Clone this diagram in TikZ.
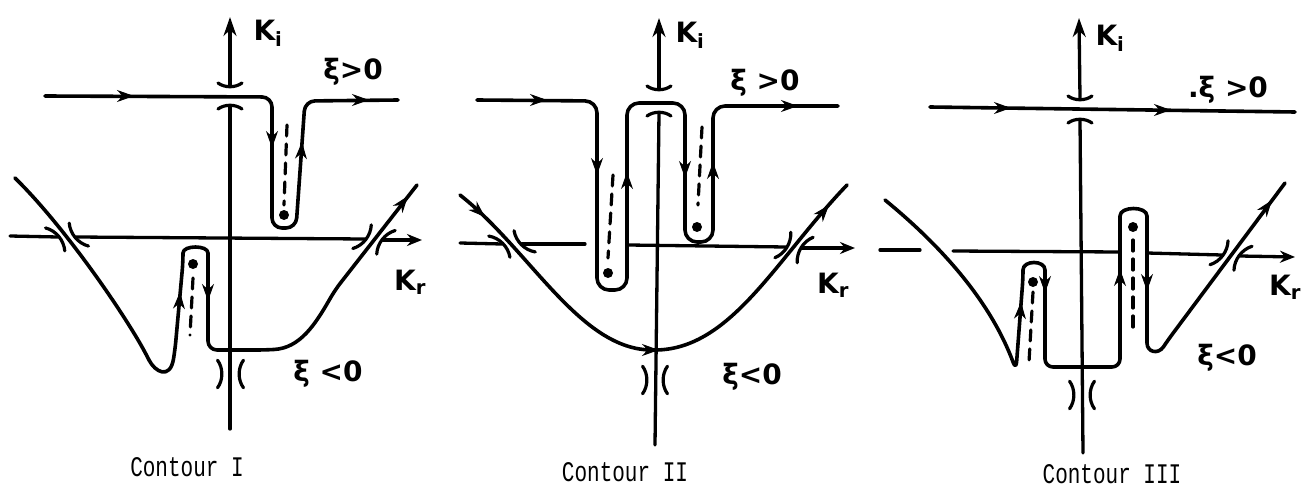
\documentclass[tikz,border=0pt]{standalone}
\usepackage{fontspec}
\usepackage{graphicx}
\setmainfont{DejaVu Sans}
\newfontfamily\typewfont{Liberation Mono}
\usetikzlibrary{arrows.meta, calc}

\begin{document}
\begin{tikzpicture}[x=1pt, y=-1pt, line width=3.6pt, line cap=round, line join=round,
  kaxis/.style={line width=3.3pt},
  axtip/.style={-{Stealth[length=19pt,width=13pt]}},
  krtip/.style={-{Stealth[length=15pt,width=12pt]}},
  tipmark/.style={-{Stealth[length=17pt,width=12pt]}, line width=1pt},
  branch/.style={dash pattern=on 11pt off 8pt, line width=3.2pt},
  lbl/.style={font=\bfseries\fontsize{28}{30}\selectfont, inner sep=0pt},
  ctitle/.style={font=\typewfont\fontsize{21}{24}\selectfont, inner sep=0pt},
  brk/.pic={\draw[line width=3.2pt] (-12,3) .. controls (-5,-2) and (5,-2) .. (12,3);}]
\useasboundingbox (0,0) rectangle (1302,495);

% Contour I
\draw[kaxis, axtip] (230,86) -- (230,17);
\draw[kaxis] (230,106) -- (230,429);
\path (230,86) pic[rotate=180] {brk};
\path (230,106) pic {brk};
\draw[kaxis] (10,236) -- (58,237);
\draw[kaxis] (76,237) -- (365,239);
\draw[kaxis, krtip] (383,240) -- (422,240);
\path (58,237) pic[rotate=-50, scale=1.25] {brk};
\path (76,237) pic[rotate=130, scale=1.25] {brk};
\path (365,239) pic[rotate=232, scale=1.25] {brk};
\path (383,240) pic[rotate=52, scale=1.25] {brk};
\path (221,374) pic[rotate=-90, scale=1.15] {brk};
\path (240,374) pic[rotate=90, scale=1.15] {brk};

\draw[rounded corners=10pt] (45,96) -- (272,97) -- (272,228) -- (296,228) -- (305,101) -- (398,100);
\draw[rounded corners=9pt] (15,178) .. controls (60,222) and (115,300) .. (145,352)
  .. controls (155,372) and (170,380) .. (175,350) -- (183,262)
  .. controls (183,245) and (208,245) .. (208,262) -- (208,350) -- (265,350)
  .. controls (300,348) and (315,325) .. (335,290) -- (417,185);
\draw[tipmark] (118,96) -- (134,96);
\draw[tipmark] (272,132) -- (272,148);
\draw[tipmark] (301,158) -- (302,142);
\draw[tipmark] (353,100) -- (369,100);
\draw[tipmark] (179,308) -- (180,292);
\draw[tipmark] (208,285) -- (208,301);
\draw[tipmark] (398,209) -- (408,196);
\draw[branch] (287,125) -- (284,205);
\fill (284,215) circle (5pt);
\draw[branch] (193,278) -- (190,335);
\fill (193,264) circle (5pt);

\node[lbl] (ki1) at (268,33) {K\textsubscript{i}};
\node[lbl] (xp1) at (353,72) {ξ>0};
\node[lbl] (xn1) at (328,374) {ξ <0};
\node[lbl] (kr1) at (410,282) {K\textsubscript{r}};
\node[ctitle] (c1) at (187,467) {\scalebox{1}[1.35]{Contour I}};

% Contour II
\draw[kaxis, axtip] (659,89) -- (659,18);
\draw[kaxis] (659,113) -- (655,445);
\path (659,89) pic[rotate=180] {brk};
\path (659,113) pic {brk};
\draw[kaxis] (460,243) -- (502,244);
\draw[kaxis] (522,244) -- (585,244);
\draw[kaxis] (628,245) -- (786,247);
\draw[kaxis, krtip] (802,248) -- (855,248);
\path (502,244) pic[rotate=-45, scale=1.25] {brk};
\path (522,244) pic[rotate=135, scale=1.25] {brk};
\path (786,247) pic[rotate=238, scale=1.25] {brk};
\path (802,248) pic[rotate=58, scale=1.25] {brk};
\path (646,380) pic[rotate=-90, scale=1.15] {brk};
\path (664,380) pic[rotate=90, scale=1.15] {brk};

\draw[rounded corners=12pt] (477,100) -- (597,101) -- (597,290) -- (627,290) -- (627,103)
  -- (685,103) -- (685,242) -- (713,242) -- (713,106) -- (838,106);
\draw (460,195) .. controls (530,250) and (580,350) .. (652,350)
  .. controls (730,352) and (775,260) .. (847,185);
\draw[tipmark] (531,100) -- (547,100);
\draw[tipmark] (597,159) -- (597,175);
\draw[tipmark] (627,188) -- (627,172);
\draw[tipmark] (685,162) -- (685,178);
\draw[tipmark] (713,178) -- (713,162);
\draw[tipmark] (782,106) -- (798,106);
\draw[tipmark] (473,206) -- (485,217);
\draw[tipmark] (643,350) -- (659,350);
\draw[tipmark] (819,217) -- (829,205);
\draw[branch] (613,175) -- (608,258);
\fill (608,273) circle (5pt);
\draw[branch] (702,127) -- (698,205);
\fill (697,227) circle (5pt);

\node[lbl] (ki2) at (690,35) {K\textsubscript{i}};
\node[lbl] (xp2) at (765,83) {ξ >0};
\node[lbl] (xn2) at (752,377) {ξ<0};
\node[lbl] (kr2) at (833,285) {K\textsubscript{r}};
\node[ctitle] (c2) at (625,472) {\scalebox{1}[1.35]{Contour II}};

% Contour III
\draw[kaxis, axtip] (1080,98) -- (1079,18);
\draw[kaxis] (1080,120) -- (1083,453);
\path (1080,99) pic[rotate=180] {brk};
\path (1080,120) pic {brk};
\draw[kaxis] (880,250) -- (920,250);
\draw[kaxis] (953,251) -- (1120,252);
\draw[kaxis] (1147,253) -- (1222,255);
\draw[kaxis, krtip] (1240,256) -- (1295,257);
\path (1222,255) pic[rotate=233, scale=1.25] {brk};
\path (1240,256) pic[rotate=53, scale=1.25] {brk};
\path (1073,395) pic[rotate=-90, scale=1.15] {brk};
\path (1091,395) pic[rotate=90, scale=1.15] {brk};

\draw (930,107) -- (1295,112);
\draw[rounded corners=8pt] (885,200) .. controls (940,245) and (990,300) .. (1016,370)
  -- (1023,278) .. controls (1023,260) and (1045,260) .. (1045,278) -- (1045,367) -- (1120,367)
  -- (1120,224) .. controls (1120,206) and (1147,206) .. (1147,224) -- (1147,335)
  .. controls (1147,352) and (1158,355) .. (1168,340) -- (1285,183);
\draw[tipmark] (995,108) -- (1011,108);
\draw[tipmark] (1155,110) -- (1171,110);
\draw[tipmark] (1020,318) -- (1021,302);
\draw[tipmark] (1045,277) -- (1045,293);
\draw[tipmark] (1120,285) -- (1120,269);
\draw[tipmark] (1147,275) -- (1147,291);
\draw[tipmark] (1263,212) -- (1272,200);
\draw[branch] (1033,292) -- (1029,362);
\fill (1033,282) circle (5pt);
\draw[branch] (1133,240) -- (1133,333);
\fill (1133,227) circle (5pt);

\node[lbl] (ki3) at (1110,38) {K\textsubscript{i}};
\node[lbl] (xp3) at (1228,90) {.ξ >0};
\node[lbl] (xn3) at (1227,358) {ξ<0};
\node[lbl] (kr3) at (1285,287) {K\textsubscript{r}};
\node[ctitle] (c3) at (1112,474) {\scalebox{1}[1.35]{Contour III}};
\end{tikzpicture}
\end{document}
